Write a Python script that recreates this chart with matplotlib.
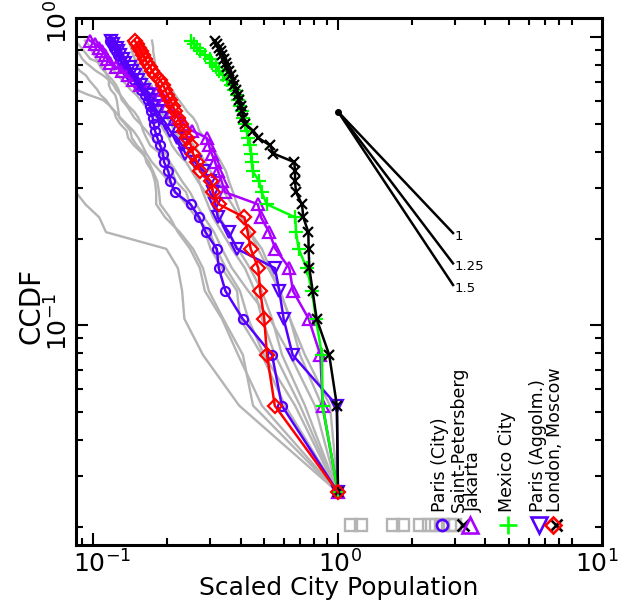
import matplotlib
matplotlib.use('Agg')
import matplotlib.pyplot as plt

# CCDF levels shared by every city (rank / 38), from the top point down to the largest city
ccdf = [0.9737, 0.9474, 0.9211, 0.8947, 0.8684, 0.8421, 0.8158, 0.7895, 0.7632, 0.7368,
        0.7105, 0.6842, 0.6579, 0.6316, 0.6053, 0.5789, 0.5526, 0.5263, 0.5000, 0.4737,
        0.4474, 0.4211, 0.3947, 0.3684, 0.3421, 0.3158, 0.2895, 0.2632, 0.2368, 0.2105,
        0.1842, 0.1579, 0.1316, 0.1053, 0.0789, 0.0526, 0.0263]

# scaled populations, same order as ccdf
paris_city = [0.117, 0.119, 0.122, 0.124, 0.126, 0.129, 0.131, 0.134, 0.137, 0.142,
              0.147, 0.153, 0.157, 0.163, 0.168, 0.171, 0.172, 0.175, 0.177, 0.179,
              0.183, 0.188, 0.193, 0.195, 0.203,
              0.207, 0.216, 0.250, 0.271, 0.288, 0.320, 0.326, 0.347, 0.408, 0.538, 0.590, 1.0]
paris_agglo = [0.118, 0.121, 0.125, 0.127, 0.129, 0.133, 0.135, 0.141, 0.144, 0.148,
               0.153, 0.157, 0.162, 0.168, 0.171, 0.176, 0.183, 0.190, 0.199, 0.206,
               0.220, 0.231, 0.238, 0.261, 0.284,
               0.300, 0.309, 0.316, 0.323, 0.358, 0.387, 0.553, 0.576, 0.600, 0.653, 0.99, 1.0]
jakarta = [0.097, 0.102, 0.106, 0.109, 0.112, 0.114, 0.117, 0.124, 0.131, 0.139,
           0.146, 0.156, 0.184, 0.188, 0.195, 0.201, 0.210, 0.222, 0.235, 0.254,
           0.291, 0.297, 0.305, 0.315, 0.324,
           0.335, 0.346, 0.471, 0.485, 0.524, 0.555, 0.633, 0.655, 0.759, 0.847, 0.866, 1.0]
mexico = [0.251, 0.258, 0.266, 0.273, 0.286, 0.300, 0.306, 0.318, 0.327, 0.339,
          0.352, 0.366, 0.377, 0.386, 0.392, 0.398, 0.405, 0.411, 0.417, 0.424,
          0.430, 0.437, 0.442, 0.445, 0.449,
          0.477, 0.488, 0.512, 0.670, 0.674, 0.691, 0.745, 0.783, 0.813, 0.860, 0.866, 1.0]
moscow = [0.315, 0.321, 0.327, 0.333, 0.336, 0.342, 0.349, 0.352, 0.359, 0.366,
          0.373, 0.377, 0.384, 0.391, 0.395, 0.402, 0.405, 0.411, 0.417, 0.451,
          0.473, 0.528, 0.545, 0.663, 0.668,
          0.668, 0.674, 0.713, 0.722, 0.757, 0.759, 0.764, 0.788, 0.818, 0.921, 0.99, 1.0]
london = [0.148, 0.151, 0.154, 0.157, 0.160, 0.163, 0.166, 0.171, 0.174, 0.179,
          0.188, 0.193, 0.197, 0.201, 0.206, 0.212, 0.216, 0.222, 0.228, 0.235,
          0.242, 0.251, 0.256, 0.266, 0.273,
          0.303, 0.309, 0.326, 0.415, 0.428, 0.440, 0.473, 0.481, 0.500, 0.513, 0.552, 1.0]

# other cities (grey)
gray_lines = [
    [0.174, 0.175, 0.176, 0.176, 0.177, 0.178, 0.179, 0.181, 0.185, 0.192,
     0.197, 0.202, 0.210, 0.216, 0.224, 0.233, 0.242, 0.256, 0.266, 0.271,
     0.286, 0.303, 0.318, 0.333, 0.349, 0.359, 0.373, 0.387, 0.406, 0.437,
     0.489, 0.528, 0.580, 0.637, 0.700, 0.860, 1.0],
    [0.139, 0.141, 0.143, 0.144, 0.146, 0.148, 0.151, 0.154, 0.159, 0.161,
     0.166, 0.173, 0.176, 0.178, 0.181, 0.184, 0.186, 0.199, 0.209, 0.214,
     0.226, 0.238, 0.249, 0.256, 0.261, 0.271, 0.281, 0.294, 0.309, 0.336,
     0.369, 0.417, 0.458, 0.489, 0.553, 0.700, 1.0],
    [0.0837, 0.0871, 0.0894, 0.0919, 0.0945, 0.0972, 0.106, 0.109, 0.112, 0.114,
     0.116, 0.116, 0.118, 0.123, 0.125, 0.126, 0.127, 0.128, 0.135, 0.142,
     0.144, 0.151, 0.162, 0.165, 0.174, 0.179, 0.181, 0.181, 0.197, 0.226,
     0.256, 0.281, 0.297, 0.340, 0.409, 0.450, 1.0],
    [0.0806, 0.0822, 0.0837, 0.0862, 0.0885, 0.0902, 0.0936, 0.0981, 0.103, 0.110,
     0.116, 0.121, 0.124, 0.129, 0.134, 0.139, 0.147, 0.153, 0.157, 0.160,
     0.165, 0.171, 0.188, 0.204, 0.210, 0.218, 0.240, 0.249, 0.273, 0.287,
     0.302, 0.336, 0.387, 0.398, 0.489, 0.608, 1.0],
    [0.0735, 0.0749, 0.0763, 0.0777, 0.0791, 0.0806, 0.0822, 0.0852, 0.0885, 0.0936,
     0.0963, 0.100, 0.104, 0.107, 0.113, 0.117, 0.122, 0.124, 0.129, 0.137,
     0.139, 0.147, 0.159, 0.169, 0.176, 0.183, 0.186, 0.188, 0.206, 0.222,
     0.249, 0.273, 0.286, 0.336, 0.391, 0.489, 1.0],
    [0.0607, 0.0618, 0.0634, 0.0647, 0.0659, 0.0670, 0.0686, 0.0707, 0.0735, 0.0763,
     0.0791, 0.0822, 0.0852, 0.0955, 0.110, 0.117, 0.123, 0.129, 0.137, 0.146,
     0.153, 0.159, 0.165, 0.174, 0.188, 0.204, 0.218, 0.240, 0.264, 0.300,
     0.318, 0.349, 0.398, 0.430, 0.499, 0.668, 1.0],
    [0.044, 0.046, 0.046, 0.048, 0.050, 0.051, 0.051, 0.053, 0.055, 0.056,
     0.058, 0.058, 0.060, 0.061, 0.063, 0.066, 0.067, 0.069, 0.070, 0.072,
     0.075, 0.076, 0.077, 0.079, 0.081, 0.082, 0.0852, 0.093, 0.106, 0.113,
     0.199, 0.222, 0.231, 0.236, 0.281, 0.395, 1.0],
    [0.0927, 0.0955, 0.0972, 0.0990, 0.101, 0.103, 0.105, 0.107, 0.111, 0.115,
     0.120, 0.124, 0.127, 0.129, 0.131, 0.137, 0.142, 0.147, 0.156, 0.165,
     0.174, 0.188, 0.199, 0.206, 0.218, 0.231, 0.249, 0.264, 0.284, 0.312,
     0.336, 0.369, 0.430, 0.528, 0.637, 0.805, 1.0],
    [0.102, 0.104, 0.107, 0.110, 0.113, 0.115, 0.117, 0.120, 0.122, 0.127,
     0.131, 0.137, 0.142, 0.150, 0.156, 0.163, 0.171, 0.181, 0.188, 0.195,
     0.204, 0.210, 0.222, 0.240, 0.253, 0.268, 0.288, 0.312, 0.330, 0.355,
     0.391, 0.437, 0.489, 0.538, 0.591, 0.733, 1.0],
    [0.117, 0.120, 0.122, 0.124, 0.127, 0.129, 0.133, 0.137, 0.142, 0.147,
     0.153, 0.159, 0.165, 0.171, 0.179, 0.188, 0.195, 0.206, 0.218, 0.231,
     0.244, 0.258, 0.273, 0.288, 0.302, 0.324, 0.343, 0.369, 0.398, 0.437,
     0.471, 0.518, 0.580, 0.637, 0.733, 0.928, 1.0],
]

# guide slopes
slope_labels = ['1', '1.25', '1.5']
slope_start = (1.0, 0.552)
slope_end_x = 2.95
slope_end_y = [0.209, 0.164, 0.138]

legend_names = ['Paris (City)', 'Saint-Petersberg', 'Jakarta', 'Mexico City',
                'Paris (Aggolm.)', 'London, Moscow']

fig = plt.figure(figsize=(6.18, 6.05), dpi=100)
ax = fig.add_axes([0.123, 0.0992, 0.851, 0.8706])
ax.set_xscale('log')
ax.set_yscale('log')

gray = '#b4b4b4'
for xs in gray_lines:
    ax.plot(xs, ccdf, color=gray, lw=1.7, zorder=1)

blue = '#5500ff'
purple = '#aa00ff'
green = '#00ff00'
series = [
    (paris_city, blue, 'o', 6.5),
    (jakarta, purple, '^', 8),
    (paris_agglo, blue, 'v', 8),
    (mexico, green, '+', 10),
    (moscow, 'black', 'x', 7),
    (london, 'red', 'D', 7),
]
for xs, c, m, ms in series:
    ax.plot(xs, ccdf, color=c, lw=1.8, marker=m, ms=ms, mfc='none', mec=c,
            mew=1.6, zorder=3)

# slope guides
for ye, lab in zip(slope_end_y, slope_labels):
    ax.plot([slope_start[0], slope_end_x], [slope_start[1], ye], color='black', lw=1.8, zorder=4)
    ax.text(slope_end_x * 1.01, ye * 0.975, lab, fontsize=9.5, ha='left', va='center')
ax.plot([slope_start[0]], [slope_start[1]], 'o', color='black', ms=4, zorder=5)

# hand-placed legend along the bottom
tr = ax.get_xaxis_transform()
my = 0.038
sq_x = [1.130, 1.241, 1.677, 1.842, 2.162, 2.351, 2.51, 2.68, 2.866, 3.0]
for x in sq_x:
    ax.plot([x], [my], 's', ms=8, mfc='none', mec=gray, mew=1.7, transform=tr, clip_on=False)
ax.plot([2.65], [my], 'o', ms=8, mfc='none', mec=blue, mew=1.9, transform=tr)
ax.plot([3.24], [my], 'x', ms=8, mec='black', mew=1.9, transform=tr)
ax.plot([3.46], [my], '^', ms=11, mfc='none', mec=purple, mew=1.9, transform=tr)
ax.plot([4.93], [my], '+', ms=13, mec=green, mew=1.9, transform=tr)
ax.plot([6.61], [my], 'v', ms=11, mfc='none', mec=blue, mew=1.9, transform=tr)
ax.plot([7.76], [my], 'x', ms=8, mec='black', mew=1.9, transform=tr)
ax.plot([7.52], [my], 'D', ms=8.5, mfc='none', mec='red', mew=1.9, transform=tr)
for x, name in zip([2.62, 3.12, 3.60, 4.92, 6.58, 7.69], legend_names):
    ax.text(x, 0.0627, name, rotation=90, ha='center', va='bottom',
            fontsize=12.5, transform=tr)

ax.set_xlim(0.0852, 11.96)
ax.set_ylim(0.01726, 1.164)

ax.set_xticks([0.1, 1, 10])
ax.set_yticks([0.1, 1])
ax.set_xticklabels([])
ax.set_yticklabels([])
ax.tick_params(which='both', direction='in', top=True, right=True, width=1.5)
ax.tick_params(which='major', length=8.5)
ax.tick_params(which='minor', length=5)
xt = ax.xaxis.get_major_ticks()[2]
xt.tick1line.set_visible(False)
xt.tick2line.set_visible(False)
for s in ax.spines.values():
    s.set_linewidth(2.2)

# tick labels placed where the reference shows them
xlab_pos = [0.1088, 1.019, 11.41]
xlab_txt = [r'$10^{-1}$', r'$10^{0}$', r'$10^{1}$']
for x, t in zip(xlab_pos, xlab_txt):
    ax.text(x, -0.011, t, transform=tr, ha='center', va='top', fontsize=18)
ytr = ax.get_yaxis_transform()
for y, t in zip([1.13, 0.1027], [r'$10^{0}$', r'$10^{-1}$']):
    ax.text(-0.006, y, t, transform=ytr, ha='right', va='center', rotation=90, fontsize=18)

ax.set_xlabel('Scaled City Population', fontsize=18)
ax.xaxis.set_label_coords(0.5, -0.058)
ax.set_ylabel('CCDF', fontsize=20)
ax.yaxis.set_label_coords(-0.058, 0.454)

fig.savefig('out.png', dpi=100)
